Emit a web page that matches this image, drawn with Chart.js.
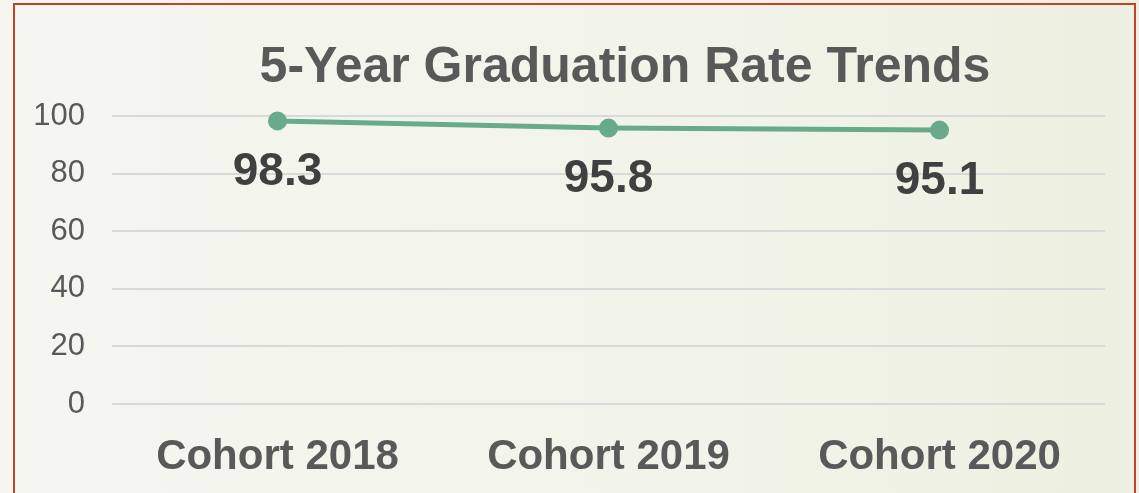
<!DOCTYPE html>
<html lang="en">
<head>
  <meta charset="UTF-8" />
  <title>5-Year Graduation Rate Trends</title>
  <script src="https://cdn.jsdelivr.net/npm/chart.js"></script>
  <style>
    html, body {
      margin: 0;
      padding: 0;
      width: 1139px;
      height: 493px;
      overflow: hidden;
      background: linear-gradient(90deg, #f5f6f0 0%, #f2f4ea 55%, #edf0e0 100%);
    }
    .frame {
      position: absolute;
      left: 13px;
      top: 3px;
      width: 1119px;
      height: 520px;
      border: 2px solid #c2432a;
    }
    .wrap {
      position: absolute;
      left: 0;
      top: 0;
      width: 1139px;
      height: 493px;
    }
  </style>
</head>
<body>

<div class="frame"></div>
<div class="wrap"><canvas id="grafico" width="1139" height="493"></canvas></div>

<script>
  const titulo = '5-Year Graduation Rate Trends';
  const cohorts = ['Cohort 2018', 'Cohort 2019', 'Cohort 2020'];
  const taxas = [98.3, 95.8, 95.1];
  const yTicks = [0, 20, 40, 60, 80, 100];

  const fonte = 'Liberation Sans, Arial, sans-serif';

  // título desenhado à mão (no original fica um pouco à direita do centro)
  const tituloPlugin = {
    id: 'tituloPlugin',
    beforeDraw(chart) {
      const ctx = chart.ctx;
      ctx.save();
      ctx.font = 'bold 50px ' + fonte;
      ctx.fillStyle = '#595959';
      ctx.textAlign = 'center';
      ctx.textBaseline = 'middle';
      ctx.fillText(titulo, 625, 68);
      ctx.restore();
    }
  };

  // rótulos de valor abaixo de cada ponto
  const rotulos = {
    id: 'rotulos',
    afterDatasetsDraw(chart) {
      const ctx = chart.ctx;
      const meta = chart.getDatasetMeta(0);
      ctx.save();
      ctx.font = 'bold 46px ' + fonte;
      ctx.fillStyle = '#404040';
      ctx.textAlign = 'center';
      ctx.textBaseline = 'middle';
      meta.data.forEach((p, i) => {
        ctx.fillText(taxas[i].toFixed(1), p.x, p.y + 51);
      });
      ctx.restore();
    }
  };

  new Chart(document.getElementById('grafico').getContext('2d'), {
    type: 'line',
    data: {
      labels: cohorts,
      datasets: [{
        label: 'Graduation Rate',
        data: taxas,
        borderColor: '#67ab8b',
        backgroundColor: '#67ab8b',
        borderWidth: 5,
        pointRadius: 7,
        pointHoverRadius: 7,
        tension: 0,
        clip: false
      }]
    },
    options: {
      responsive: false,
      animation: false,
      devicePixelRatio: 1,
      layout: { padding: { left: 10, right: 34, top: 116, bottom: 0 } },
      plugins: {
        legend: { display: false },
        tooltip: { enabled: false },
        title: { display: false }
      },
      scales: {
        x: {
          offset: true,
          grid: { display: false },
          border: { display: false },
          afterFit: axis => { axis.height = 89; },
          ticks: {
            color: '#595959',
            padding: 20,
            font: { family: fonte, size: 42, weight: 'bold' }
          }
        },
        y: {
          min: 0,
          max: 100,
          afterBuildTicks: axis => { axis.ticks = yTicks.map(v => ({ value: v })); },
          afterFit: axis => { axis.width = 102; },
          grid: { color: '#d9d9d9', lineWidth: 2, drawTicks: false },
          border: { display: false },
          ticks: {
            color: '#595959',
            padding: 27,
            font: { family: fonte, size: 31 }
          }
        }
      }
    },
    plugins: [tituloPlugin, rotulos]
  });
</script>

</body>
</html>
